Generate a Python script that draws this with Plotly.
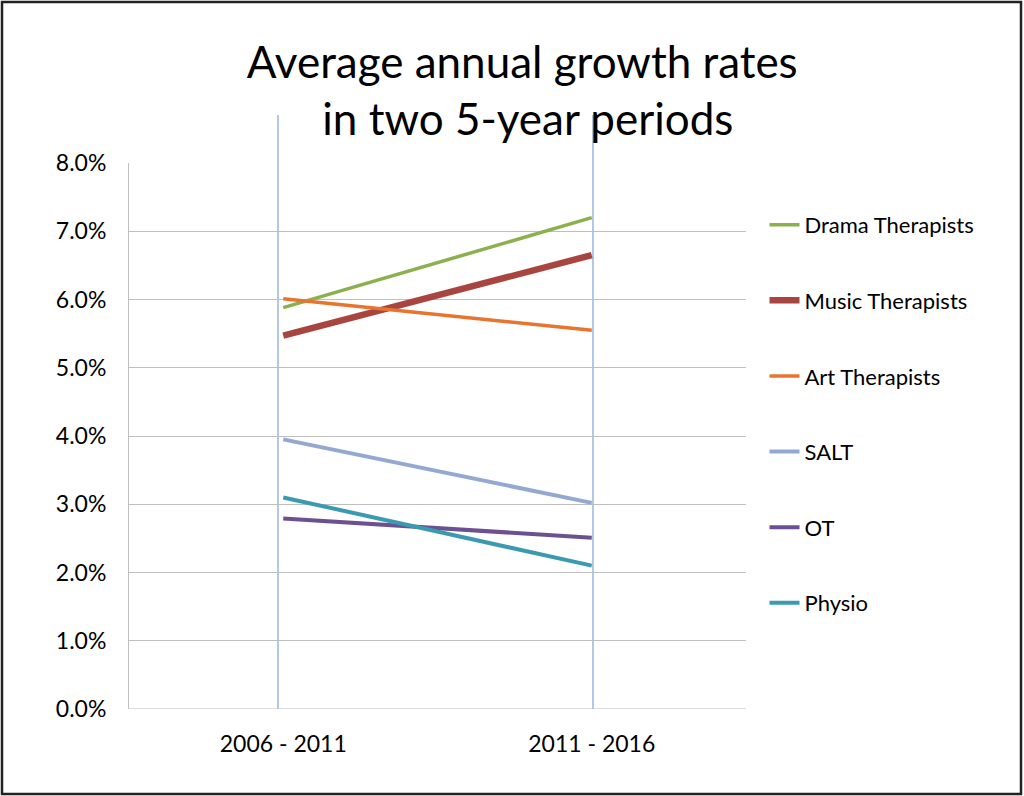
import plotly.graph_objects as go

categories = ["2006 - 2011", "2011 - 2016"]
series_names = ["Drama Therapists", "Music Therapists", "Art Therapists", "SALT", "OT", "Physio"]
drama = [0.0588, 0.0720]
music = [0.0547, 0.0665]
art = [0.0601, 0.0555]
salt = [0.0395, 0.0302]
ot = [0.0279, 0.0251]
physio = [0.0310, 0.0210]
y_ticks = [0, 0.01, 0.02, 0.03, 0.04, 0.05, 0.06, 0.07, 0.08]

values = [drama, music, art, salt, ot, physio]
colors = ["#8DB04F", "#A94541", "#E8742E", "#94A9D2", "#6D5091", "#3A9BB0"]
widths = [3.5, 6.5, 3.5, 4, 4, 4]

W, H = 1024, 796
L, R, T, B = 129, 278, 163, 87
pw, ph = W - L - R, H - T - B

fig = go.Figure()
for i, (name, vals) in enumerate(zip(series_names, values)):
    fig.add_trace(go.Scatter(
        x=[0, 1], y=vals, mode="lines", name=name,
        line=dict(color=colors[i], width=widths[i]),
        legendgroup=name,
    ))

font = "Lato"
fig.update_layout(
    width=W, height=H,
    margin=dict(l=L, r=R, t=T, b=B, autoexpand=False),
    paper_bgcolor="white", plot_bgcolor="white",
    title=dict(text="Average annual growth rates<br> in two 5-year periods",
               x=0.51, xanchor="center", y=0.902, yanchor="top",
               font=dict(family=font, size=44, color="black")),
    xaxis=dict(range=[-0.5, 1.5], tickvals=[0, 1], ticktext=categories,
               showgrid=False, zeroline=False, showline=False, ticks="",
               ticklabelstandoff=19,
               tickfont=dict(family=font, size=23, color="black")),
    yaxis=dict(range=[0, 0.08], tickvals=y_ticks, tickformat=".1%",
               showgrid=True, gridcolor="#BFBFBF", gridwidth=1,
               zeroline=False, showline=True, linecolor="#BFBFBF", linewidth=1,
               ticks="", ticklabelstandoff=17,
               tickfont=dict(family=font, size=23, color="black")),
    legend=dict(x=1.03, xanchor="left", y=0.925, yanchor="top",
                traceorder="grouped", tracegroupgap=44,
                font=dict(family=font, size=22, color="black"),
                itemwidth=30, bgcolor="rgba(0,0,0,0)"),
    showlegend=True,
)
# bottom axis line at 0
fig.add_shape(type="line", xref="paper", yref="y", x0=0, x1=1, y0=0, y1=0,
              line=dict(color="#BFBFBF", width=1))
# vertical period markers extending above the plot area
for xv in [-0.017, 1.004]:
    fig.add_shape(type="line", xref="x", yref="paper", x0=xv, x1=xv, y0=0, y1=1.088,
                  line=dict(color="#7FA3D3", width=1.2), layer="below")
# outer border
fig.add_shape(type="rect", xref="paper", yref="paper",
              x0=(2 - L) / pw, x1=(1021 - L) / pw,
              y0=-(794 - (T + ph)) / ph, y1=1 + (T - 2) / ph,
              line=dict(color="#222222", width=2.5), fillcolor="rgba(0,0,0,0)")

fig.write_html("out.html", config={"displayModeBar": False},
               post_script="document.body.style.margin='0';document.body.style.overflow='hidden';")
